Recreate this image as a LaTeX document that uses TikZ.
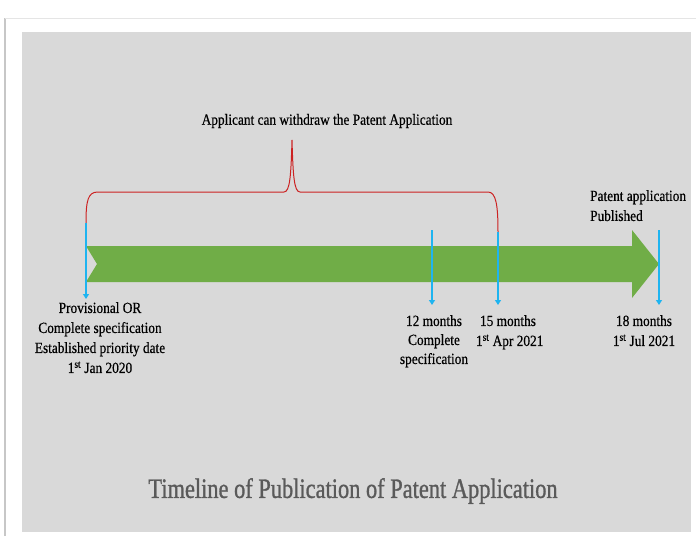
\documentclass[tikz,border=0pt]{standalone}
\usepackage{fontspec}
\setmainfont{Liberation Serif}
\newfontfamily\titlefont[FakeBold=1.2]{Liberation Serif}
\newfontfamily\labelfont[FakeBold=0.5]{Liberation Serif}
\usetikzlibrary{arrows.meta}
\definecolor{panel}{HTML}{D9D9D9}
\definecolor{tlgreen}{HTML}{70AD47}
\definecolor{tlblue}{HTML}{1EB4F0}
\definecolor{tlred}{HTML}{CC2222}
\definecolor{titlegray}{HTML}{5A5A5A}
\tikzset{
  bluearrow/.style={draw=tlblue, line width=2pt, -{Triangle[width=6pt,length=5pt]}},
  lbl/.style={font=\labelfont\fontsize{15.5}{20}\selectfont, text=black, align=center, inner sep=0pt, xscale=0.86},
  lblleft/.style={lbl, align=left, anchor=north west},
}
\begin{document}
\begin{tikzpicture}[x=1pt,y=-1pt]
\useasboundingbox (0,0) rectangle (696,536);
\fill[white] (0,0) rectangle (696,536);
% frame shadow
\draw[black!22, line width=1.2pt] (5,536) -- (5,18);
\draw[black!10, line width=1pt] (5,18) -- (696,18);
\fill[panel] (22,32) rectangle (691,532);
% timeline arrow
\fill[tlgreen] (86,246) -- (632,246) -- (632,230) -- (659,264) -- (632,298) -- (632,282) -- (86,282) -- (97,264) -- cycle;
% brace
\coordinate (b1) at (86,223);
\coordinate (b2) at (498,232);
\draw[tlred, line width=1pt] (b1) .. controls (86,200) and (88,192) .. (98,192) -- (284,192) .. controls (290,192) and (291,175) .. (292,140) .. controls (293,175) and (294,192) .. (300,192) -- (488,192) .. controls (496,192) and (498,205) .. (b2);
% blue markers
\coordinate (s1) at (86,223); \coordinate (e1) at (86,299);
\coordinate (s2) at (432,230); \coordinate (e2) at (432,305);
\coordinate (s3) at (498,232); \coordinate (e3) at (498,305);
\coordinate (s4) at (659,230); \coordinate (e4) at (659,305);
\draw[bluearrow] (s1) -- (e1);
\draw[bluearrow] (s2) -- (e2);
\draw[bluearrow] (s3) -- (e3);
\draw[bluearrow] (s4) -- (e4);
% texts
\node[lbl] (top) at (327,121) {Applicant can withdraw the Patent Application};
\node[lbl, anchor=north] (t1) at (100,302) {Provisional OR\\Complete specification\\Established priority date\\1\textsuperscript{st} Jan 2020};
\node[lbl, anchor=north, font=\labelfont\fontsize{15.5}{19}\selectfont] (t2) at (434,315) {12 months\\Complete\\specification};
\node[lbl, anchor=north] (t3) at (508,315) {15 months\\\hspace*{4pt}1\textsuperscript{st} Apr 2021};
\node[lbl, anchor=north] (t4) at (644,315) {18 months\\1\textsuperscript{st} Jul 2021};
\node[lblleft] (t5) at (590,190) {Patent application\\Published};
\node[font=\titlefont\fontsize{28}{30}\selectfont, text=titlegray, xscale=0.8, inner sep=0pt] (title) at (353,491) {Timeline of Publication of Patent Application};
\end{tikzpicture}
\end{document}
